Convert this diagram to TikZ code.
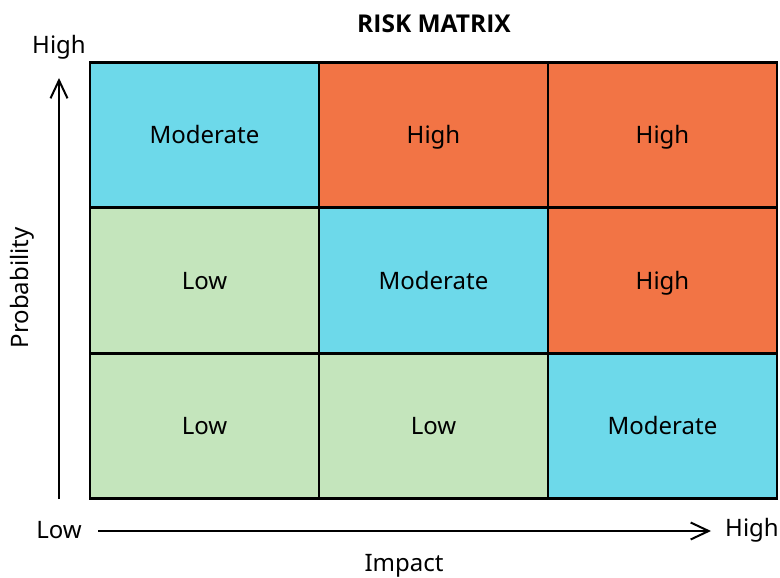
\documentclass[tikz,border=0pt]{standalone}
\usepackage{fontspec}
\setmainfont{Noto Sans}
\newfontfamily\titlefont{Open Sans}
\usetikzlibrary{arrows.meta}
\definecolor{cmod}{RGB}{109,217,234}
\definecolor{chigh}{RGB}{242,116,69}
\definecolor{clow}{RGB}{196,229,188}
\tikzset{
  cell/.style={draw=black, line width=2.8pt, minimum width=229pt, minimum height=145.67pt, inner sep=0pt, text height=17pt, text depth=0pt, font=\fontsize{24}{28}\selectfont},
  lbl/.style={font=\fontsize{24}{28}\selectfont, inner sep=0pt},
  axis/.style={line width=2pt, -{Straight Barb[length=18pt,width=17pt,line width=2pt]}}
}
\begin{document}
\begin{tikzpicture}[x=1pt,y=-1pt]
\useasboundingbox[fill=white] (0,0) rectangle (780,578);
\node[cell, fill=cmod]  (c11) at (204.5,135) {Moderate};
\node[cell, fill=chigh] (c12) at (433.5,135) {High};
\node[cell, fill=chigh] (c13) at (662.5,135) {High};
\node[cell, fill=clow]  (c21) at (204.5,280.5) {Low};
\node[cell, fill=cmod]  (c22) at (433.5,280.5) {Moderate};
\node[cell, fill=chigh] (c23) at (662.5,280.5) {High};
\node[cell, fill=clow]  (c31) at (204.5,426) {Low};
\node[cell, fill=clow]  (c32) at (433.5,426) {Low};
\node[cell, fill=cmod]  (c33) at (662.5,426) {Moderate};
\coordinate (vs) at (59,499);
\coordinate (ve) at (59,78);
\coordinate (hs) at (98,531);
\coordinate (he) at (711,531);
\draw[axis] (vs) -- (ve);
\draw[axis] (hs) -- (he);
\node[lbl, font=\titlefont\bfseries\fontsize{24.5}{28}\selectfont] (title) at (434,24) {RISK MATRIX};
\node[lbl] (yhigh) at (59,47) {High};
\node[lbl] (xlow) at (59,530) {Low};
\node[lbl] (xhigh) at (752,530) {High};
\node[lbl] (xlab) at (404,566) {Impact};
\node[lbl, rotate=90] (ylab) at (22,288) {Probability};
\end{tikzpicture}
\end{document}
